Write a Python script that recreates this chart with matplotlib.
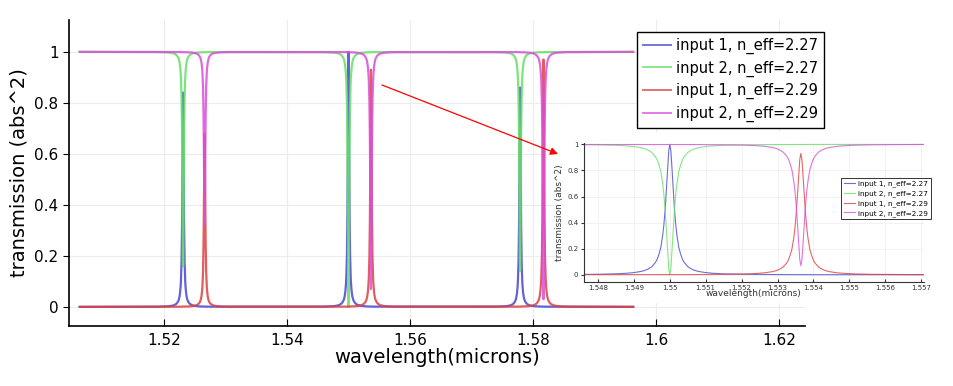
import numpy as np
import matplotlib
matplotlib.use("Agg")
import matplotlib.pyplot as plt
from matplotlib.patches import Rectangle
from matplotlib.ticker import FormatStrFormatter

# wavelength span of the simulation (microns)
x_start, x_end = 1.5063, 1.5963

# ring resonances, n_eff = 2.27 and 2.29, with the sampled height of input 1 at each
res_227 = [1.5231, 1.5500, 1.5779]
peak_227 = [0.84, 1.00, 0.86]
res_229 = [1.5266, 1.55365, 1.5817]
peak_229 = [0.68, 0.93, 0.97]

# resonance line shape: offset from centre -> fraction of peak
shape_dx = [0, 0.00003, 0.00006, 0.0001, 0.00013, 0.00017, 0.0002, 0.00025, 0.0003,
            0.00035, 0.0004, 0.0005, 0.0006, 0.0007, 0.0008, 0.001, 0.0012, 0.0015,
            0.002, 0.0025, 0.003, 0.004]
shape_y = [1.0, 0.95, 0.82, 0.63, 0.50, 0.37, 0.30, 0.21, 0.16,
           0.12, 0.095, 0.063, 0.045, 0.033, 0.026, 0.017, 0.012, 0.0075,
           0.0042, 0.0027, 0.0019, 0.001]

labels = ["input 1, n_eff=2.27", "input 2, n_eff=2.27",
          "input 1, n_eff=2.29", "input 2, n_eff=2.29"]
colors = ["#4848d0", "#66e066", "#dd4040", "#d850d8"]

main_xticks = [1.52, 1.54, 1.56, 1.58, 1.6, 1.62]
inset_xticks = [1.548, 1.549, 1.55, 1.551, 1.552, 1.553, 1.554, 1.555, 1.556, 1.557]
yticks = [0, 0.2, 0.4, 0.6, 0.8, 1]


def ports(centres, peaks):
    xs, drop = [x_start], [0.0]
    for c, p in zip(centres, peaks):
        for dx, s in zip(shape_dx[::-1], shape_y[::-1]):
            xs.append(c - dx)
            drop.append(p * s)
        for dx, s in zip(shape_dx[1:], shape_y[1:]):
            xs.append(c + dx)
            drop.append(p * s)
    xs.append(x_end)
    drop.append(0.0)
    drop = np.array(drop)
    return np.array(xs), drop, 1 - drop


xa, d_a, t_a = ports(res_227, peak_227)
xb, d_b, t_b = ports(res_229, peak_229)
series = [(xa, d_a), (xa, t_a), (xb, d_b), (xb, t_b)]

fig = plt.figure(figsize=(9.54, 3.86), dpi=100)
ax = fig.add_axes([69 / 954, 60 / 386, 736 / 954, 306 / 386])

for (x, y), lab, col in zip(series, labels, colors):
    ax.plot(x, y, color=col, lw=1.6, alpha=0.85, label=lab)

ax.set_xlim(1.50455, 1.62423)
ax.set_ylim(-0.075, 1.125)
ax.set_xticks(main_xticks)
ax.set_yticks(yticks)
ax.xaxis.set_major_formatter(FormatStrFormatter("%g"))
ax.yaxis.set_major_formatter(FormatStrFormatter("%g"))
ax.grid(True, color="#ececec", lw=0.8)
ax.set_axisbelow(True)
for s in ["top", "right"]:
    ax.spines[s].set_visible(False)
for s in ["left", "bottom"]:
    ax.spines[s].set_linewidth(1.2)
ax.tick_params(axis="x", direction="in", length=5, labelsize=11, pad=5)
ax.tick_params(axis="y", direction="out", length=4, labelsize=11)
ax.set_xlabel("wavelength(microns)", fontsize=14, labelpad=0)
ax.set_ylabel("transmission (abs^2)", fontsize=14)

leg = ax.legend(loc="upper left", bbox_to_anchor=(0.762, 0.985), fontsize=10.5,
                handlelength=1.9, handletextpad=0.4, labelspacing=0.45,
                borderpad=0.4, fancybox=False, framealpha=1, edgecolor="black")
leg.get_frame().set_linewidth(1.0)
for h in leg.get_lines():
    h.set_alpha(0.75)
    h.set_linewidth(1.4)

# white backing for the zoomed view
fig.add_artist(Rectangle((555 / 954, 83 / 386), 380 / 954, 171 / 386,
                         transform=fig.transFigure, facecolor="white",
                         edgecolor="none", zorder=1))

ins = fig.add_axes([584 / 954, 104 / 386, 340 / 954, 139 / 386], zorder=2)
for (x, y), lab, col in zip(series, labels, colors):
    ins.plot(x, y, color=col, lw=0.8, alpha=0.8, label=lab)
ins.set_xlim(1.54761, 1.55708)
ins.set_ylim(-0.055, 1.01)
ins.set_xticks(inset_xticks)
ins.set_yticks(yticks)
ins.xaxis.set_major_formatter(FormatStrFormatter("%g"))
ins.yaxis.set_major_formatter(FormatStrFormatter("%g"))
ins.grid(True, color="#f0f0f0", lw=0.6)
ins.set_axisbelow(True)
for s in ["top", "right"]:
    ins.spines[s].set_visible(False)
for s in ["left", "bottom"]:
    ins.spines[s].set_linewidth(0.8)
    ins.spines[s].set_color("#333333")
ins.tick_params(axis="x", direction="in", length=2.5, labelsize=5, pad=2, colors="#333333")
ins.tick_params(axis="y", direction="out", length=2.5, labelsize=5, pad=1.5, colors="#333333")
ins.set_xlabel("wavelength(microns)", fontsize=6.5, labelpad=-1, color="#333333")
ins.set_ylabel("transmission (abs^2)", fontsize=6.5, labelpad=2, color="#333333")
ileg = ins.legend(loc="center right", bbox_to_anchor=(1.03, 0.6), fontsize=5.2,
                  handlelength=1.6, handletextpad=0.4, labelspacing=0.4,
                  borderpad=0.35, fancybox=False, framealpha=1, edgecolor="#333333")
ileg.get_frame().set_linewidth(0.7)

ins.annotate("", xy=(558 / 954, 1 - 154 / 386), xycoords="figure fraction",
             xytext=(382 / 954, 1 - 85 / 386), textcoords="figure fraction",
             annotation_clip=False,
             arrowprops=dict(arrowstyle="-|>", color="red", lw=0.9,
                             mutation_scale=11, shrinkA=0, shrinkB=0))

fig.savefig("out.png", dpi=100)
